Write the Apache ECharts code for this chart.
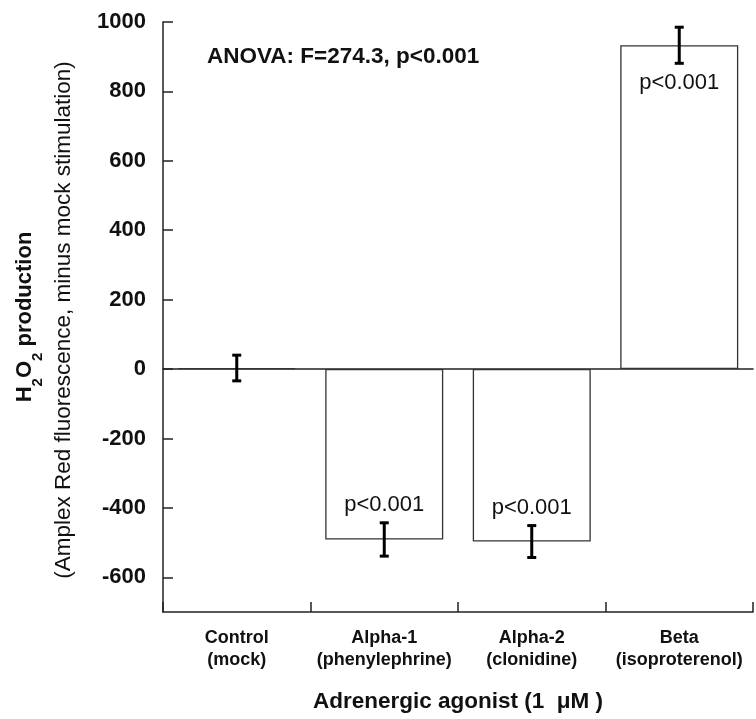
<!DOCTYPE html>
<html>
<head>
<meta charset="utf-8">
<script src="https://cdn.jsdelivr.net/npm/echarts@6/dist/echarts.min.js"></script>
<style>
  html, body { margin: 0; padding: 0; background: #fff; }
  #chart { width: 756px; height: 719px; }
</style>
</head>
<body>
<div id="chart"></div>
<script>
// data
var categories = ['Control\n(mock)', 'Alpha-1\n(phenylephrine)', 'Alpha-2\n(clonidine)', 'Beta\n(isoproterenol)'];
var means = [3, -491, -497, 933];
var errors = [37, 48, 46, 52];
var pLabels = ['', 'p<0.001', 'p<0.001', 'p<0.001'];
var yTicks = [-600, -400, -200, 0, 200, 400, 600, 800, 1000];

var font = 'Liberation Sans, Arial, Helvetica, sans-serif';
var axisColor = '#222';

var chart = echarts.init(document.getElementById('chart'));

// error bar data: [index, low, high, label, mean]
var errData = means.map(function (m, i) {
  return [i, m - errors[i], m + errors[i], pLabels[i], m];
});

var option = {
  animation: false,
  backgroundColor: '#fff',
  grid: { left: 163, right: 3, top: 22, bottom: 107 },
  xAxis: [
    {
      type: 'category',
      data: categories,
      axisLine: { onZero: false, lineStyle: { color: axisColor, width: 1.5 } },
      axisTick: { show: true, inside: true, length: 10, lineStyle: { color: axisColor, width: 1.5 } },
      axisLabel: {
        fontFamily: font, fontWeight: 'bold', fontSize: 18, lineHeight: 22,
        color: '#111', margin: 15, interval: 0
      },
      name: 'Adrenergic agonist (1  \u03bcM )',
      nameLocation: 'middle',
      nameGap: 78,
      nameTextStyle: { fontFamily: font, fontWeight: 'bold', fontSize: 22.5, color: '#111' }
    },
    {
      // zero line
      type: 'category',
      data: categories,
      position: 'bottom',
      axisLine: { onZero: true, lineStyle: { color: axisColor, width: 1.6 } },
      axisTick: { show: false },
      axisLabel: { show: false }
    }
  ],
  yAxis: {
    type: 'value',
    min: -700,
    max: 1000,
    axisLine: { show: true, lineStyle: { color: axisColor, width: 1.5 } },
    axisTick: { show: true, inside: true, length: 10, customValues: yTicks, lineStyle: { color: axisColor, width: 1.5 } },
    axisLabel: {
      customValues: yTicks,
      formatter: function (v) { return String(v); },
      fontFamily: font, fontWeight: 'bold', fontSize: 22, color: '#111', margin: 17
    },
    splitLine: { show: false }
  },
  graphic: [
    {
      type: 'text', x: 207, y: 57,
      style: { text: 'ANOVA: F=274.3, p<0.001', font: 'bold 22.5px ' + font, fill: '#111', verticalAlign: 'middle' }
    },
    {
      type: 'text', x: 25, y: 317, rotation: Math.PI / 2,
      style: {
        text: '{b|H}{s|2}{b|O}{s|2}{b| production}',
        align: 'center', verticalAlign: 'middle',
        rich: {
          b: { fontFamily: font, fontWeight: 'bold', fontSize: 22, lineHeight: 22, verticalAlign: 'top', fill: '#111' },
          s: { fontFamily: font, fontWeight: 'bold', fontSize: 15, lineHeight: 15, padding: [16, 0, 0, 0], verticalAlign: 'top', fill: '#111' }
        }
      }
    },
    {
      type: 'text', x: 64, y: 320, rotation: Math.PI / 2,
      style: {
        text: '(Amplex Red fluorescence, minus mock stimulation)',
        font: '22.5px ' + font, fill: '#111',
        align: 'center', verticalAlign: 'middle'
      }
    }
  ],
  series: [
    {
      type: 'bar',
      data: means,
      barCategoryGap: '20%',
      itemStyle: { color: '#fff', borderColor: '#333', borderWidth: 1.3 }
    },
    {
      type: 'custom',
      data: errData,
      z: 5,
      renderItem: function (params, api) {
        var i = api.value(0);
        var lo = api.coord([i, api.value(1)]);
        var hi = api.coord([i, api.value(2)]);
        var x = lo[0];
        var cap = 4.5;
        var st = { stroke: '#000', lineWidth: 3 };
        var children = [
          { type: 'line', shape: { x1: x, y1: lo[1], x2: x, y2: hi[1] }, style: st },
          { type: 'line', shape: { x1: x - cap, y1: lo[1], x2: x + cap, y2: lo[1] }, style: st },
          { type: 'line', shape: { x1: x - cap, y1: hi[1], x2: x + cap, y2: hi[1] }, style: st }
        ];
        var label = errData[params.dataIndex][3];
        var mean = errData[params.dataIndex][4];
        if (label) {
          var positive = mean > 0;
          children.push({
            type: 'text',
            x: x,
            y: positive ? lo[1] + 9 : hi[1] - 7,
            style: {
              text: label,
              font: '22px ' + font,
              fill: '#111',
              align: 'center',
              verticalAlign: positive ? 'top' : 'bottom'
            }
          });
        }
        return { type: 'group', children: children };
      }
    }
  ]
};

chart.setOption(option);
</script>
</body>
</html>
